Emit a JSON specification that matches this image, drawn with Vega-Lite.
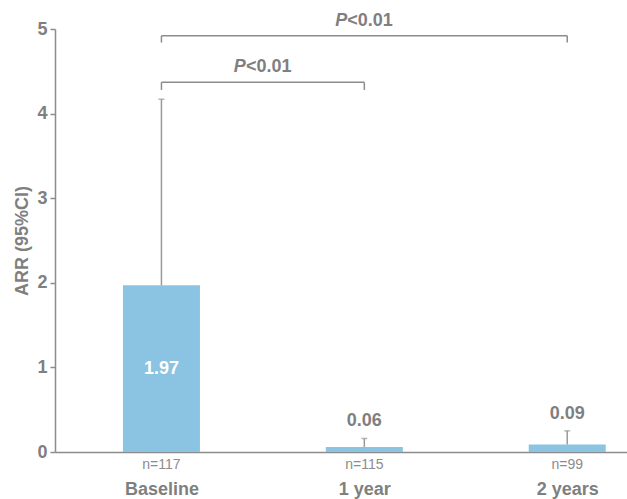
{
  "$schema": "https://vega.github.io/schema/vega-lite/v6.json",
  "width": 572,
  "height": 423,
  "autosize": {"type": "none"},
  "padding": {"left": 55, "top": 29, "right": 0, "bottom": 47},
  "background": "white",
  "config": {
    "view": {"stroke": null},
    "font": "Liberation Sans",
    "axis": {"grid": false}
  },
  "datasets": {
    "bars": [
      {"idx": 0, "group": "Baseline", "value": 1.97, "upper": 4.17, "n": "n=117", "label": "1.97"},
      {"idx": 1, "group": "1 year", "value": 0.06, "upper": 0.16, "n": "n=115", "label": "0.06"},
      {"idx": 2, "group": "2 years", "value": 0.09, "upper": 0.25, "n": "n=99", "label": "0.09"}
    ],
    "brackets": [
      {"from": 0, "to": 1, "mid": 0.5, "top": 4.37, "bottom": 4.28, "p": "P", "rest": "<0.01"},
      {"from": 0, "to": 2, "mid": 1.0, "top": 4.92, "bottom": 4.84, "p": "P", "rest": "<0.01"}
    ]
  },
  "layer": [
    {
      "data": {"name": "bars"},
      "mark": {"type": "bar", "width": 77, "color": "#8BC4E3"},
      "encoding": {
        "x": {
          "field": "idx", "type": "quantitative",
          "scale": {"domain": [-0.5, 2.27], "nice": false, "zero": false},
          "axis": {
            "values": [0, 1, 2],
            "labelExpr": "datum.value == 0 ? 'Baseline' : datum.value == 1 ? '1 year' : '2 years'",
            "title": null,
            "ticks": false,
            "domainColor": "#8c8c8c",
            "domainWidth": 1.5,
            "labelFont": "Liberation Sans",
            "labelFontSize": 18,
            "labelFontWeight": "bold",
            "labelColor": "#7f7f7f",
            "labelPadding": 28,
            "labelFlush": false
          }
        },
        "y": {
          "field": "value", "type": "quantitative",
          "scale": {"domain": [0, 5], "nice": false},
          "axis": {
            "values": [0, 1, 2, 3, 4, 5],
            "format": "d",
            "title": "ARR (95%CI)",
            "titleFont": "Liberation Sans",
            "titleFontSize": 18,
            "titleFontWeight": "bold",
            "titleColor": "#7f7f7f",
            "titlePadding": 5,
            "domainColor": "#8c8c8c",
            "domainWidth": 1.5,
            "tickColor": "#8c8c8c",
            "tickWidth": 1.5,
            "tickSize": 5,
            "labelPadding": 3,
            "labelFont": "Liberation Sans",
            "labelFontSize": 18,
            "labelFontWeight": "bold",
            "labelColor": "#7f7f7f"
          }
        }
      }
    },
    {
      "data": {"name": "bars"},
      "mark": {"type": "rule", "color": "#999999", "strokeWidth": 1.5},
      "encoding": {
        "x": {"field": "idx", "type": "quantitative"},
        "y": {"field": "value", "type": "quantitative"},
        "y2": {"field": "upper"}
      }
    },
    {
      "data": {"name": "bars"},
      "mark": {"type": "tick", "orient": "horizontal", "color": "#999999", "size": 6, "thickness": 1.5},
      "encoding": {
        "x": {"field": "idx", "type": "quantitative"},
        "y": {"field": "upper", "type": "quantitative"}
      }
    },
    {
      "data": {"name": "bars"},
      "transform": [{"filter": "datum.idx == 0"}, {"calculate": "datum.value / 2", "as": "labelY"}],
      "mark": {"type": "text", "color": "white", "fontSize": 18, "fontWeight": "bold", "baseline": "middle", "font": "Liberation Sans"},
      "encoding": {
        "x": {"field": "idx", "type": "quantitative"},
        "y": {"field": "labelY", "type": "quantitative"},
        "text": {"field": "label"}
      }
    },
    {
      "data": {"name": "bars"},
      "transform": [{"filter": "datum.idx != 0"}],
      "mark": {"type": "text", "color": "#7f7f7f", "fontSize": 18, "fontWeight": "bold", "baseline": "bottom", "dy": -8, "font": "Liberation Sans"},
      "encoding": {
        "x": {"field": "idx", "type": "quantitative"},
        "y": {"field": "upper", "type": "quantitative"},
        "text": {"field": "label"}
      }
    },
    {
      "data": {"name": "bars"},
      "mark": {"type": "text", "color": "#8c8c8c", "fontSize": 14, "baseline": "top", "dy": 6, "font": "Liberation Sans"},
      "encoding": {
        "x": {"field": "idx", "type": "quantitative"},
        "y": {"datum": 0},
        "text": {"field": "n"}
      }
    },
    {
      "data": {"name": "brackets"},
      "mark": {"type": "rule", "color": "#8c8c8c", "strokeWidth": 1.5},
      "encoding": {
        "x": {"field": "from", "type": "quantitative"},
        "x2": {"field": "to"},
        "y": {"field": "top", "type": "quantitative"}
      }
    },
    {
      "data": {"name": "brackets"},
      "mark": {"type": "rule", "color": "#8c8c8c", "strokeWidth": 1.5},
      "encoding": {
        "x": {"field": "from", "type": "quantitative"},
        "y": {"field": "top", "type": "quantitative"},
        "y2": {"field": "bottom"}
      }
    },
    {
      "data": {"name": "brackets"},
      "mark": {"type": "rule", "color": "#8c8c8c", "strokeWidth": 1.5},
      "encoding": {
        "x": {"field": "to", "type": "quantitative"},
        "y": {"field": "top", "type": "quantitative"},
        "y2": {"field": "bottom"}
      }
    },
    {
      "data": {"name": "brackets"},
      "mark": {"type": "text", "color": "#7f7f7f", "fontSize": 18, "fontWeight": "bold", "fontStyle": "italic", "align": "right", "baseline": "bottom", "dx": -17, "dy": -6, "font": "Liberation Sans"},
      "encoding": {
        "x": {"field": "mid", "type": "quantitative"},
        "y": {"field": "top", "type": "quantitative"},
        "text": {"field": "p"}
      }
    },
    {
      "data": {"name": "brackets"},
      "mark": {"type": "text", "color": "#7f7f7f", "fontSize": 18, "fontWeight": "bold", "align": "left", "baseline": "bottom", "dx": -17, "dy": -6, "font": "Liberation Sans"},
      "encoding": {
        "x": {"field": "mid", "type": "quantitative"},
        "y": {"field": "top", "type": "quantitative"},
        "text": {"field": "rest"}
      }
    }
  ]
}
